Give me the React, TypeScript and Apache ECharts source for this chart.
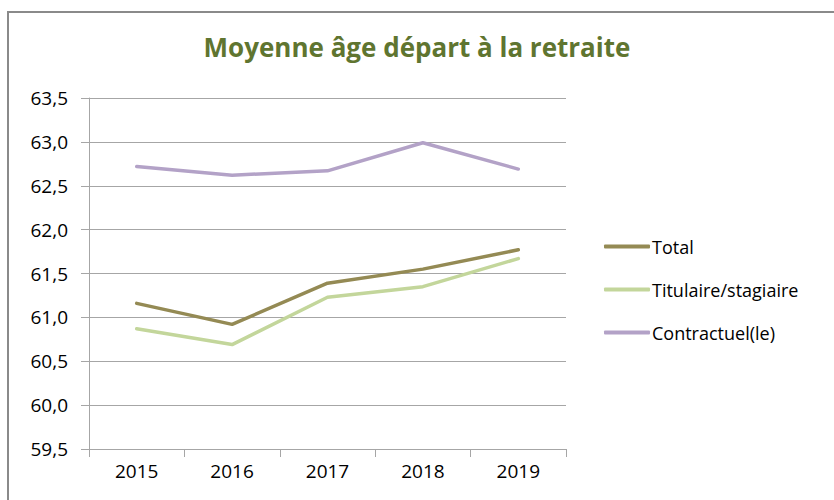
import React, { useEffect, useRef } from "react";
import * as echarts from "echarts";

const years = ["2015", "2016", "2017", "2018", "2019"];
const total = [61.16, 60.92, 61.39, 61.55, 61.77];
const titulaire = [60.87, 60.69, 61.23, 61.35, 61.67];
const contractuel = [62.72, 62.62, 62.67, 62.99, 62.69];
const seriesNames = ["Total", "Titulaire/stagiaire", "Contractuel(le)"];

const FONT = "'Open Sans', 'Noto Sans', sans-serif";

export default function App() {
  const ref = useRef<HTMLDivElement>(null);
  useEffect(() => {
    if (!ref.current) return;
    const chart = echarts.init(ref.current, null, { renderer: "svg" });
    chart.setOption({
      animation: false,
      backgroundColor: "#ffffff",
      title: {
        text: "Moyenne âge départ à la retraite",
        left: "center",
        top: 29,
        textStyle: { color: "#5f7530", fontSize: 26, fontWeight: "bold", fontFamily: FONT },
      },
      graphic: [
        {
          type: "rect",
          shape: { x: 8, y: 12, width: 900, height: 600 },
          style: { fill: "none", stroke: "#8a8a8a", lineWidth: 2 },
          silent: true,
        },
      ],
      legend: {
        orient: "vertical",
        left: 599,
        top: 232,
        icon: "roundRect",
        itemWidth: 46,
        itemHeight: 4,
        itemGap: 24,
        textStyle: { color: "#000", fontSize: 18, fontFamily: FONT, padding: [0, 0, 0, -3], lineHeight: 19 },
        data: seriesNames,
      },
      grid: { left: 89, right: 268, top: 98, bottom: 51, containLabel: false },
      xAxis: {
        type: "category",
        data: years,
        boundaryGap: true,
        axisLine: { lineStyle: { color: "#a6a6a6", width: 1 } },
        axisTick: { show: true, length: 8, lineStyle: { color: "#a6a6a6" } },
        axisLabel: { color: "#000", fontSize: 19, fontFamily: FONT, margin: 12 },
      },
      yAxis: {
        type: "value",
        min: 59.5,
        max: 63.5,
        interval: 0.5,
        axisLine: { show: true, lineStyle: { color: "#a6a6a6", width: 1 } },
        axisTick: { show: true, length: 8, lineStyle: { color: "#a6a6a6" } },
        splitLine: { lineStyle: { color: "#a6a6a6", width: 1 } },
        axisLabel: {
          color: "#000",
          fontSize: 19,
          fontFamily: FONT,
          margin: 21,
          formatter: (v: number) => v.toFixed(1).replace(".", ","),
        },
      },
      series: [
        {
          name: seriesNames[0],
          type: "line",
          data: total,
          symbol: "none",
          lineStyle: { color: "#948a54", width: 3.5, cap: "round" },
          itemStyle: { color: "#948a54" },
        },
        {
          name: seriesNames[1],
          type: "line",
          data: titulaire,
          symbol: "none",
          lineStyle: { color: "#c3d69b", width: 3.5, cap: "round" },
          itemStyle: { color: "#c3d69b" },
        },
        {
          name: seriesNames[2],
          type: "line",
          data: contractuel,
          symbol: "none",
          lineStyle: { color: "#b3a2c7", width: 3.5, cap: "round" },
          itemStyle: { color: "#b3a2c7" },
        },
      ],
    });
    return () => chart.dispose();
  }, []);
  return (
    <div
      ref={ref}
      style={{ position: "absolute", left: 0, top: 0, width: 834, height: 500 }}
    />
  );
}
